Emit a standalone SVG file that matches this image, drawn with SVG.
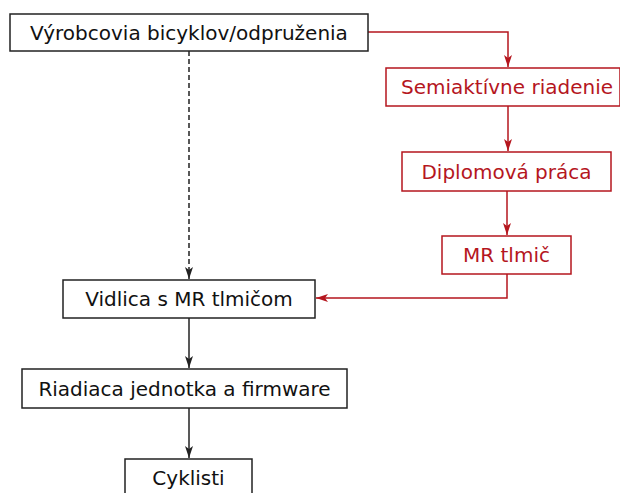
<svg xmlns="http://www.w3.org/2000/svg" width="620" height="493" viewBox="0 0 620 493">
<style>
rect{fill:#fff;stroke-width:1.5}
.k rect{stroke:#222}
.r rect{stroke:#b5161e}
text{font-family:"DejaVu Sans",sans-serif;font-size:20px;text-anchor:middle;dominant-baseline:central}
.k text{fill:#111}
.r text{fill:#b5161e}
.ck{stroke:#222;stroke-width:1.5;fill:none}
.cr{stroke:#b5161e;stroke-width:1.5;fill:none}
</style>
<defs>
<marker id="ak" viewBox="0 0 12 10" refX="12" refY="5" markerWidth="12" markerHeight="10" markerUnits="userSpaceOnUse" orient="auto"><path d="M0,1 L12,5 L0,9 L3,5 z" fill="#222"/></marker>
<marker id="ar" viewBox="0 0 12 10" refX="12" refY="5" markerWidth="12" markerHeight="10" markerUnits="userSpaceOnUse" orient="auto"><path d="M0,1 L12,5 L0,9 L3,5 z" fill="#b5161e"/></marker>
</defs>
<g id="connectors">
<path class="ck" d="M189,51 V279" stroke-dasharray="5,3" marker-end="url(#ak)"/>
<path class="cr" d="M368,32 H508 V67" marker-end="url(#ar)"/>
<path class="cr" d="M508,106 V151" marker-end="url(#ar)"/>
<path class="cr" d="M507,191 V235" marker-end="url(#ar)"/>
<path class="cr" d="M507,274 V298 H316" marker-end="url(#ar)"/>
<path class="ck" d="M189,318 V368" marker-end="url(#ak)"/>
<path class="ck" d="M189,408 V458" marker-end="url(#ak)"/>
</g>
<g id="vyrobcovia" class="k"><rect x="10" y="14" width="358" height="37"/><text x="189" y="32.5">Výrobcovia bicyklov/odpruženia</text></g>
<g id="semiaktivne" class="r"><rect x="386" y="68" width="234" height="38"/><text x="507" y="87">Semiaktívne riadenie</text></g>
<g id="diplomova" class="r"><rect x="402" y="152" width="209" height="39"/><text x="506.5" y="171.5">Diplomová práca</text></g>
<g id="mrtlmic" class="r"><rect x="442" y="236" width="129" height="38"/><text x="506.5" y="255">MR tlmič</text></g>
<g id="vidlica" class="k"><rect x="63" y="280" width="252" height="38"/><text x="189" y="299">Vidlica s MR tlmičom</text></g>
<g id="riadiaca" class="k"><rect x="22" y="369" width="325" height="39"/><text x="184.5" y="388.5">Riadiaca jednotka a firmware</text></g>
<g id="cyklisti" class="k"><rect x="125" y="459" width="127" height="40"/><text x="188.5" y="478">Cyklisti</text></g>
</svg>
